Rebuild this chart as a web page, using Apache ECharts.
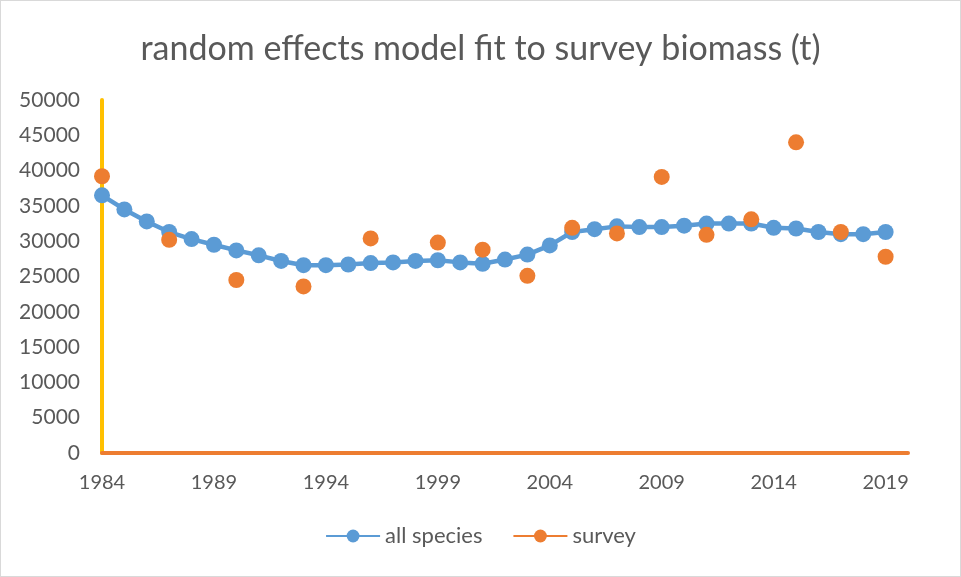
<!DOCTYPE html>
<html>
<head>
<meta charset="utf-8">
<title>random effects model fit</title>
<script src="https://cdn.jsdelivr.net/npm/echarts@6/dist/echarts.min.js"></script>
<style>
  html, body { margin: 0; padding: 0; background: #fff; }
  #main { width: 959px; height: 575px; border: 1px solid #d9d9d9; }
</style>
</head>
<body>
<div id="main"></div>
<script>
// years on the x axis (2020 only extends the axis line, no point there)
var years = [];
for (var y = 1984; y <= 2020; y++) years.push(String(y));

// all species model fit, 1984-2019
var allSpecies = [36500, 34500, 32800, 31300, 30300, 29500, 28700, 28000, 27200, 26600,
                  26600, 26700, 26900, 27000, 27200, 27300, 27000, 26800, 27400, 28100,
                  29400, 31300, 31700, 32100, 32000, 32000, 32200, 32500, 32500, 32500,
                  31900, 31800, 31300, 31000, 31000, 31300];

// survey points (null where no survey)
var survey = [39200, null, null, 30200, null, null, 24500, null, null, 23600,
              null, null, 30400, null, null, 29800, null, 28800, null, 25100,
              null, 31900, null, 31100, null, 39100, null, 30900, null, 33100,
              null, 44000, null, 31300, null, 27800];

var myChart = echarts.init(document.getElementById('main'));
var textColor = '#595959';
var font = 'Lato, "Open Sans", sans-serif';

var option = {
  animation: false,
  title: {
    text: 'random effects model fit to survey biomass (t)',
    left: 'center',
    top: 26,
    textStyle: { fontFamily: font, fontSize: 34, fontWeight: 'normal', color: textColor }
  },
  legend: {
    bottom: 24,
    itemWidth: 54,
    itemHeight: 16,
    itemGap: 30,
    textStyle: { fontFamily: font, fontSize: 22, color: textColor },
    data: ['all species', 'survey']
  },
  grid: { left: 101, right: 52, top: 99, bottom: 123 },
  xAxis: {
    type: 'category',
    boundaryGap: false,
    data: years,
    axisLine: { lineStyle: { color: '#ED7D31', width: 4 } },
    axisTick: { show: false },
    axisLabel: { interval: 4, color: textColor, fontFamily: font, fontSize: 20, margin: 20 },
    splitLine: { show: false }
  },
  yAxis: {
    type: 'value',
    min: 0,
    max: 50000,
    interval: 5000,
    axisLine: { show: true, lineStyle: { color: '#FFC000', width: 4 } },
    axisTick: { show: false },
    axisLabel: {
      color: textColor, fontFamily: font, fontSize: 21, margin: 22,
      formatter: function (v) { return String(v); }
    },
    splitLine: { show: false }
  },
  series: [
    {
      name: 'all species',
      type: 'line',
      data: allSpecies,
      symbol: 'circle',
      symbolSize: 16,
      showAllSymbol: true,
      itemStyle: { color: '#5B9BD5' },
      lineStyle: { color: '#5B9BD5', width: 4.5 },
      z: 2
    },
    {
      name: 'survey',
      type: 'line',
      data: survey,
      symbol: 'circle',
      symbolSize: 16,
      showAllSymbol: true,
      connectNulls: false,
      itemStyle: { color: '#ED7D31' },
      lineStyle: { color: '#ED7D31', width: 4.5 },
      z: 3
    }
  ]
};

myChart.setOption(option);
</script>
</body>
</html>
